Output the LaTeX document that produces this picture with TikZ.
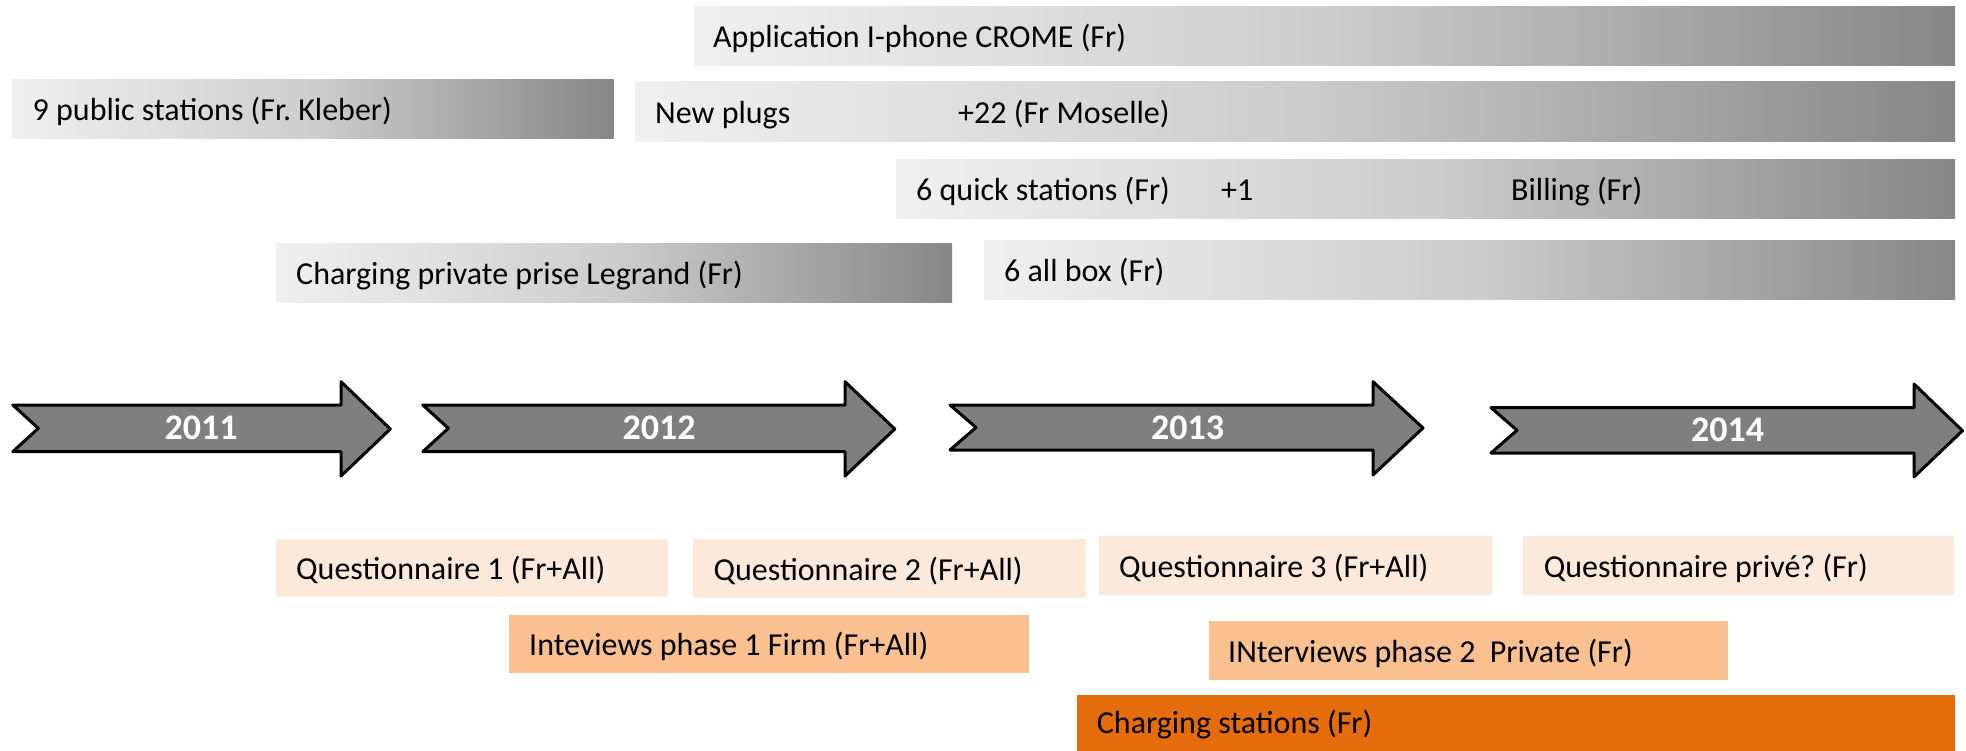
\documentclass[tikz,border=0pt]{standalone}
\usepackage{fontspec}
\setmainfont{Carlito}
\definecolor{barlight}{HTML}{F0F0F0}
\definecolor{barmid}{HTML}{CDCDCD}
\definecolor{bardark}{HTML}{868686}
\definecolor{peachlight}{HTML}{FDE9D9}
\definecolor{peachmid}{HTML}{FAC090}
\definecolor{orangedark}{HTML}{E46C0A}
\definecolor{arrowgray}{HTML}{7F7F7F}
\frenchspacing
\begin{document}
\begin{tikzpicture}[x=1pt,y=-1pt,
  box/.style={inner sep=0pt, outer sep=0pt, anchor=north west, draw=none},
  gbar/.style={box, left color=barlight, right color=bardark, middle color=barmid},
  qbox/.style={box, fill=peachlight},
  ibox/.style={box, fill=peachmid},
  cbox/.style={box, fill=orangedark},
  lbl/.style={anchor=base west, inner sep=0pt, font=\fontsize{32}{38}\selectfont, text=black},
  yr/.style={anchor=base, inner sep=0pt, font=\fontsize{36}{42}\selectfont\bfseries, text=white},
  yeararrow/.style={draw=black, line width=3pt, fill=arrowgray, line join=round}
]
\useasboundingbox (0,0) rectangle (1966,751);

% gray bars
\node[gbar, minimum width=1261pt, minimum height=59pt] (bApp) at (694,7) {};
\node[gbar, minimum width=1320pt, minimum height=60pt] (bPlug) at (635,82) {};
\node[gbar, minimum width=1059pt, minimum height=59pt] (bQuick) at (896,160) {};
\node[gbar, minimum width=971pt, minimum height=59pt] (bAll) at (984,241) {};
\node[gbar, minimum width=601pt, minimum height=59pt] (bPub) at (12.5,80) {};
\node[gbar, minimum width=676pt, minimum height=59pt] (bPriv) at (276,244) {};

\node[lbl] (tApp) at (713,48) {Application I-phone CROME (Fr)};
\node[lbl] (tPlug) at (655,123.5) {New plugs};
\node[lbl] (tMos) at (958,123.5) {+22 (Fr Moselle)};
\node[lbl] (tQuick) at (916,201) {6 quick stations (Fr)};
\node[lbl] (tOne) at (1221,201) {+1};
\node[lbl] (tBill) at (1511,201) {Billing (Fr)};
\node[lbl] (tAll) at (1004,282) {6 all box (Fr)};
\node[lbl] (tPub) at (32.5,121) {9 public stations (Fr. Kleber)};
\node[lbl] (tPriv) at (296,285) {Charging private prise Legrand (Fr)};

% year arrows
\draw[yeararrow] (12.8,405) -- (341,405) -- (341,381.7) -- (390.3,429) -- (341,476) -- (341,451.7) -- (12.8,451.7) -- (38.3,428.3) -- cycle;
\draw[yeararrow] (422.8,405) -- (845,405) -- (845,381.7) -- (894.8,429) -- (845,476) -- (845,451.7) -- (422.8,451.7) -- (448.3,428.3) -- cycle;
\draw[yeararrow] (950,405) -- (1373,405) -- (1373,381.7) -- (1423,428) -- (1373,475) -- (1373,450) -- (950,450) -- (976,427.5) -- cycle;
\draw[yeararrow] (1491,407.7) -- (1914,407.7) -- (1914,384) -- (1962.5,430.7) -- (1914,477) -- (1914,453) -- (1491,453) -- (1517,430.3) -- cycle;
\node[yr] (y11) at (201,439) {2011};
\node[yr] (y12) at (659,439) {2012};
\node[yr] (y13) at (1187.5,439) {2013};
\node[yr] (y14) at (1727.7,441) {2014};

% orange boxes
\node[qbox, minimum width=392pt, minimum height=58pt] (q1) at (276,539) {};
\node[qbox, minimum width=393pt, minimum height=59pt] (q2) at (693,539) {};
\node[qbox, minimum width=393pt, minimum height=59pt] (q3) at (1099,536) {};
\node[qbox, minimum width=431pt, minimum height=59pt] (q4) at (1523,536) {};
\node[ibox, minimum width=520pt, minimum height=58pt] (i1) at (509,615) {};
\node[ibox, minimum width=519pt, minimum height=59pt] (i2) at (1209,621) {};
\node[cbox, minimum width=878pt, minimum height=56pt] (cs) at (1077,695) {};

\node[lbl] (tq1) at (296,579.5) {Questionnaire 1 (Fr+All)};
\node[lbl] (tq2) at (713.4,580) {Questionnaire 2 (Fr+All)};
\node[lbl] (tq3) at (1119,577) {Questionnaire 3 (Fr+All)};
\node[lbl] (tq4) at (1543.6,577) {Questionnaire privé? (Fr)};
\node[lbl] (ti1) at (529,655.5) {Inteviews phase 1 Firm (Fr+All)};
\node[lbl] (ti2) at (1228,662) {INterviews phase 2\ \ Private (Fr)};
\node[lbl] (tcs) at (1096.7,733) {Charging stations (Fr)};
\end{tikzpicture}
\end{document}
